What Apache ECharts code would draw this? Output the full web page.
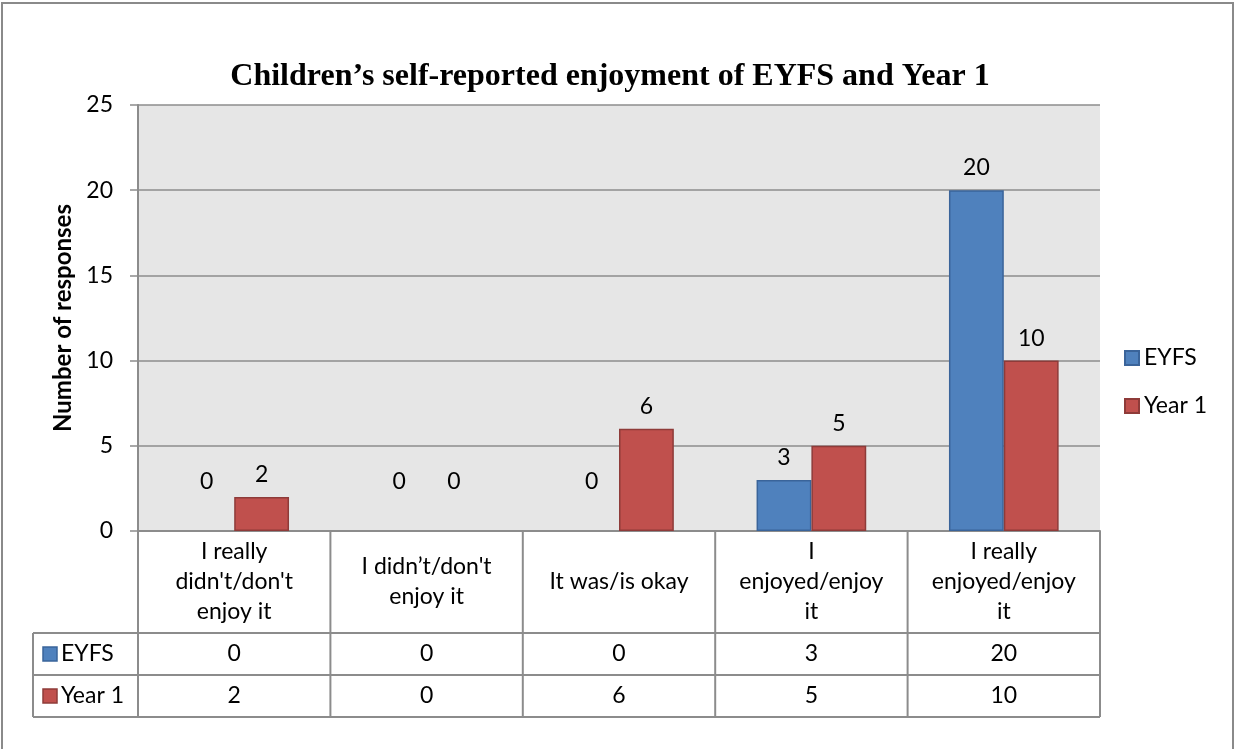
<!DOCTYPE html>
<html><head><meta charset="utf-8">
<script src="https://cdn.jsdelivr.net/npm/echarts@6/dist/echarts.min.js"></script>
<style>html,body{margin:0;padding:0;background:#fff}#c{width:1235px;height:749px}</style>
</head><body><div id="c"></div>
<script>
const titleText = 'Children’s self-reported enjoyment of EYFS and Year 1';
const categories = ["I really\ndidn't/don't\nenjoy it", "I didn’t/don't\nenjoy it", "It was/is okay", "I\nenjoyed/enjoy\nit", "I really\nenjoyed/enjoy\nit"];
const seriesNames = ['EYFS', 'Year 1'];
const eyfs = [0, 0, 0, 3, 20];
const year1 = [2, 0, 6, 5, 10];
const yMin = 0, yMax = 25, yInterval = 5;
const yAxisTitle = 'Number of responses';

const FONT = 'Lato';
const FS = 23;
const BLUE = '#4F81BD', BLUE_B = '#3A649A';
const RED = '#C0504D', RED_B = '#8E3B39';
const LINE = '#8c8c8c';
const W = 1235, H = 749;
const GL = 138, GR = 1100, GT = 105, GB = 531;
const ROW1 = 633, ROW2 = 675, ROW3 = 717, TL = 33;
const colW = (GR - GL) / categories.length;

const gridCfg = {left: GL, top: GT, width: GR - GL, height: GB - GT};

function barData(arr) {
  return arr.map(v => ({value: v, label: {distance: v === 0 ? 38 : 11},
    itemStyle: v === 0 ? {borderWidth: 0, color: 'rgba(0,0,0,0)', borderColor: 'rgba(0,0,0,0)'} : {}}));
}

const graphics = [];
graphics.push({type: 'rect', shape: {x: 2, y: 3, width: W - 4, height: H + 10}, style: {fill: 'none', stroke: '#8a8a8a', lineWidth: 2}, z: 100});
for (let i = 0; i <= categories.length; i++) {
  const x = GL + i * colW;
  graphics.push({type: 'line', shape: {x1: x, y1: GB, x2: x, y2: ROW3}, style: {stroke: LINE, lineWidth: 2}, z: 50});
}
[ROW1, ROW2, ROW3].forEach(y => graphics.push({type: 'line', shape: {x1: TL, y1: y, x2: GR, y2: y}, style: {stroke: LINE, lineWidth: 2}, z: 50}));
graphics.push({type: 'line', shape: {x1: TL, y1: ROW1, x2: TL, y2: ROW3}, style: {stroke: LINE, lineWidth: 2}, z: 50});
[[seriesNames[0], BLUE, BLUE_B, (ROW1 + ROW2) / 2], [seriesNames[1], RED, RED_B, (ROW2 + ROW3) / 2]].forEach(([n, f, s, cy]) => {
  graphics.push({type: 'rect', shape: {x: 43, y: cy - 7, width: 14, height: 14}, style: {fill: f, stroke: s, lineWidth: 1.5}, z: 60});
  graphics.push({type: 'text', x: 61, y: cy, style: {text: n, font: FS + 'px ' + FONT, fill: '#000', textVerticalAlign: 'middle', verticalAlign: 'middle'}, z: 60});
});

const chart = echarts.init(document.getElementById('c'));
chart.setOption({
  animation: false,
  backgroundColor: '#fff',
  title: {text: titleText, left: 605, top: 56, textAlign: 'center',
    textStyle: {fontFamily: 'Liberation Serif', fontWeight: 'bold', fontSize: 32, color: '#000'}},
  legend: {orient: 'vertical', left: 1119, top: 339, itemWidth: 14, itemHeight: 14, itemGap: 20, icon: 'rect',
    data: seriesNames,
    textStyle: {fontFamily: FONT, fontSize: FS, color: '#000', lineHeight: 28, padding: [0, 0, 0, 0]}},
  grid: [
    Object.assign({backgroundColor: '#e6e6e6', show: true, borderWidth: 0}, gridCfg),
    Object.assign({}, gridCfg),
    Object.assign({}, gridCfg)
  ],
  xAxis: [
    {type: 'category', gridIndex: 0, data: categories,
      axisLine: {show: true, lineStyle: {color: LINE, width: 2}}, axisTick: {show: false},
      axisLabel: {interval: 0, margin: 51, verticalAlign: 'middle', lineHeight: 30, fontFamily: FONT, fontSize: FS, color: '#000', align: 'center'}},
    {type: 'category', gridIndex: 1, data: categories, axisLine: {show: false}, axisTick: {show: false},
      axisLabel: {interval: 0, margin: (ROW1 + ROW2) / 2 - GB, verticalAlign: 'middle', fontFamily: FONT, fontSize: FS, color: '#000', formatter: (v, i) => String(eyfs[i])}},
    {type: 'category', gridIndex: 2, data: categories, axisLine: {show: false}, axisTick: {show: false},
      axisLabel: {interval: 0, margin: (ROW2 + ROW3) / 2 - GB, verticalAlign: 'middle', fontFamily: FONT, fontSize: FS, color: '#000', formatter: (v, i) => String(year1[i])}}
  ],
  yAxis: [
    {type: 'value', gridIndex: 0, min: yMin, max: yMax, interval: yInterval,
      name: yAxisTitle, nameLocation: 'middle', nameGap: 61,
      nameTextStyle: {fontFamily: FONT, fontWeight: 'bold', fontSize: 24, color: '#000'},
      axisLine: {show: true, lineStyle: {color: LINE, width: 2}},
      axisTick: {show: true, inside: false, length: 8, lineStyle: {color: LINE, width: 1.5}},
      axisLabel: {margin: 25, fontFamily: FONT, fontSize: FS, color: '#000'},
      splitLine: {show: true, lineStyle: {color: LINE, width: 1.5}}},
    {type: 'value', gridIndex: 1, min: yMin, max: yMax, show: false},
    {type: 'value', gridIndex: 2, min: yMin, max: yMax, show: false}
  ],
  series: [
    {name: seriesNames[0], type: 'bar', xAxisIndex: 0, yAxisIndex: 0, data: barData(eyfs),
      barGap: '0%', barCategoryGap: '43%',
      itemStyle: {color: BLUE, borderColor: BLUE_B, borderWidth: 1.5},
      label: {show: true, position: 'top', fontFamily: FONT, fontSize: FS, color: '#000'}},
    {name: seriesNames[1], type: 'bar', xAxisIndex: 0, yAxisIndex: 0, data: barData(year1),
      barGap: '0%', barCategoryGap: '43%',
      itemStyle: {color: RED, borderColor: RED_B, borderWidth: 1.5},
      label: {show: true, position: 'top', fontFamily: FONT, fontSize: FS, color: '#000'}}
  ],
  graphic: graphics
});
</script>
</body></html>
